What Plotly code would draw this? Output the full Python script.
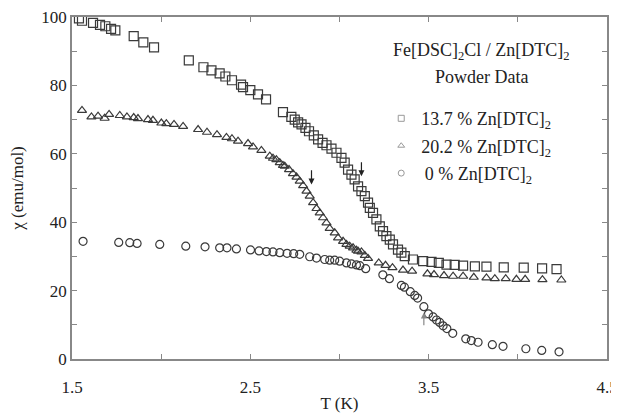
import plotly.graph_objects as go

# 13.7 % Zn[DTC]2  (squares)
sq_T = [1.539, 1.556, 1.618, 1.657, 1.687, 1.719, 1.743, 1.846, 1.900, 1.960,
        2.155, 2.237, 2.282, 2.328, 2.360, 2.397, 2.448, 2.459, 2.500, 2.543,
        2.588, 2.683, 2.730, 2.749, 2.768, 2.787, 2.809, 2.829, 2.856, 2.880,
        2.905, 2.927, 2.955, 2.983, 3.011, 3.029, 3.048, 3.067, 3.085, 3.104,
        3.123, 3.142, 3.160, 3.170, 3.188, 3.207, 3.226, 3.244, 3.263, 3.282,
        3.300, 3.328, 3.347, 3.366, 3.412, 3.469, 3.516, 3.557, 3.600, 3.646,
        3.693, 3.759, 3.824, 3.921, 4.033, 4.136, 4.217]
sq_chi = [99.6, 98.9, 98.3, 97.7, 97.3, 96.5, 96.1, 94.4, 92.6, 91.1,
          87.3, 85.3, 84.4, 83.5, 82.6, 81.5, 80.2, 79.5, 78.6, 77.4,
          75.9, 72.2, 70.8, 70.0, 69.2, 68.6, 67.6, 66.6, 65.4, 64.2,
          63.2, 62.5, 61.5, 60.3, 58.8, 57.4, 55.4, 53.9, 52.5, 50.5,
          49.1, 47.6, 45.7, 44.2, 42.7, 40.8, 38.8, 37.4, 35.9, 34.9,
          33.5, 32.0, 31.1, 30.1, 29.1, 28.6, 28.4, 28.1, 27.6, 27.5,
          27.3, 27.1, 27.0, 26.8, 26.7, 26.5, 26.3]

# 20.2 % Zn[DTC]2  (triangles)
tr_T = [1.556, 1.609, 1.646, 1.683, 1.708, 1.768, 1.808, 1.846, 1.870, 1.926,
        1.954, 2.001, 2.029, 2.072, 2.123, 2.207, 2.257, 2.313, 2.366, 2.397,
        2.431, 2.487, 2.515, 2.562, 2.609, 2.627, 2.646, 2.665, 2.683, 2.693,
        2.717, 2.739, 2.759, 2.777, 2.796, 2.815, 2.833, 2.852, 2.871, 2.889,
        2.908, 2.927, 2.945, 2.973, 2.992, 3.020, 3.039, 3.057, 3.076, 3.095,
        3.104, 3.123, 3.142, 3.160, 3.220, 3.258, 3.297, 3.356, 3.407, 3.493,
        3.530, 3.586, 3.637, 3.693, 3.753, 3.824, 3.871, 3.932, 3.992, 4.041,
        4.138, 4.244]
tr_chi = [72.7, 70.8, 71.0, 70.4, 71.5, 71.2, 70.8, 70.6, 70.3, 70.0,
          69.8, 69.0, 68.8, 68.6, 68.0, 67.1, 66.3, 65.6, 64.8, 64.4,
          63.7, 63.0, 62.0, 61.0, 59.3, 58.7, 58.3, 57.4, 56.6, 56.4,
          55.4, 54.2, 53.2, 52.0, 50.7, 49.1, 47.6, 45.7, 44.0, 42.7,
          41.3, 39.8, 38.2, 36.9, 35.4, 34.4, 33.5, 33.0, 32.5, 31.8,
          31.5, 31.3, 30.3, 29.4, 28.1, 27.4, 26.7, 26.0, 25.7, 24.9,
          24.7, 24.4, 24.2, 24.2, 23.9, 23.7, 23.5, 23.5, 23.3, 23.3,
          23.2, 23.1]

# 0 % Zn[DTC]2  (circles)
ci_T = [1.562, 1.762, 1.824, 1.865, 1.992, 2.138, 2.246, 2.328, 2.369, 2.422,
        2.501, 2.549, 2.590, 2.627, 2.665, 2.706, 2.743, 2.777, 2.833, 2.871,
        2.917, 2.945, 2.973, 3.001, 3.039, 3.067, 3.095, 3.114, 3.147, 3.243,
        3.280, 3.347, 3.364, 3.397, 3.422, 3.438, 3.473, 3.499, 3.525, 3.544,
        3.562, 3.581, 3.602, 3.635, 3.708, 3.739, 3.777, 3.857, 3.917, 4.045,
        4.134, 4.231]
ci_chi = [34.4, 34.1, 34.0, 33.8, 33.5, 33.0, 32.8, 32.5, 32.5, 32.2,
          31.9, 31.6, 31.4, 31.3, 31.1, 30.9, 30.8, 30.6, 29.9, 29.5,
          29.1, 28.9, 28.9, 28.6, 28.1, 27.8, 27.5, 27.3, 26.4, 24.6,
          23.5, 21.5, 21.0, 19.7, 18.6, 17.8, 15.3, 13.2, 12.3, 11.4,
          10.7, 9.7, 8.9, 7.5, 5.9, 5.4, 4.9, 4.2, 3.7, 3.0,
          2.5, 2.1]

# transition arrows: (T, head chi, tail chi)
arrow_T = [2.843, 3.123, 3.473]
arrow_head = [51.0, 53.4, 13.6]
arrow_tail = [55.6, 58.0, 9.4]

x_range = [1.5, 4.5]
y_range = [0, 100]
x_ticks = [1.5, 2.0, 2.5, 3.0, 3.5, 4.0, 4.5]
x_labels = ["1.5", "", "2.5", "", "3.5", "", "4.5"]
y_ticks = [0, 10, 20, 30, 40, 50, 60, 70, 80, 90, 100]
y_labels = ["0", "", "20", "", "40", "", "60", "", "80", "", "100"]

series_names = ["13.7 % Zn[DTC]<sub>2</sub>", "20.2 % Zn[DTC]<sub>2</sub>",
                "\u20090 % Zn[DTC]<sub>2</sub>"]

FONT = "Liberation Serif"
INK = "#3a3a3a"
TXT = "#222"
AX = "#888"

fig = go.Figure()
data = [(sq_T, sq_chi, "square-open", 9), (tr_T, tr_chi, "triangle-up-open", 8),
        (ci_T, ci_chi, "circle-open", 8)]
for (xs, ys, sym, sz) in data:
    fig.add_trace(go.Scatter(x=xs, y=ys, mode="markers", showlegend=False,
                             marker=dict(symbol=sym, size=sz, color=INK,
                                         line=dict(width=1.2, color=INK))))
for (xs, ys, sym, sz), name in zip(data, series_names):
    fig.add_trace(go.Scatter(x=[None], y=[None], mode="markers", name=name,
                             legendgroup=name,
                             marker=dict(symbol=sym, size=6, color="#999",
                                         line=dict(width=1, color="#999"))))
# empty trace so the label-carrying overlay axis is drawn
fig.add_trace(go.Scatter(x=[None], y=[None], xaxis="x2", yaxis="y",
                         mode="markers", showlegend=False, hoverinfo="skip"))

for t, h, tl in zip(arrow_T, arrow_head, arrow_tail):
    fig.add_annotation(x=t, y=h, ax=t, ay=tl, xref="x", yref="y",
                       axref="x", ayref="y", text="", showarrow=True,
                       arrowhead=2, arrowsize=1, arrowwidth=1.2,
                       arrowcolor="#222" if h < tl else "#888")

fig.add_annotation(x=0.766, y=0.90, xref="paper", yref="paper",
                   xanchor="center", yanchor="middle",
                   text="Fe[DSC]<sub>2</sub>Cl / Zn[DTC]<sub>2</sub>",
                   showarrow=False, font=dict(family=FONT, size=18, color=TXT))
fig.add_annotation(x=0.766, y=0.825, xref="paper", yref="paper",
                   xanchor="center", yanchor="middle",
                   text="Powder Data", showarrow=False,
                   font=dict(family=FONT, size=18, color=TXT))

# the page body adds an 8 px offset; the plot area keeps the reference's position
fig.update_layout(
    width=611, height=405,
    margin=dict(l=64, r=12, t=9, b=54, autoexpand=False),
    paper_bgcolor="white", plot_bgcolor="white",
    # main x axis: frame with inside ticks, no labels
    xaxis=dict(range=x_range, tickvals=x_ticks, showticklabels=False,
               showline=True, linecolor=AX, linewidth=1.5, mirror="ticks",
               ticks="inside", ticklen=5, tickwidth=1.2, tickcolor=AX,
               showgrid=False, zeroline=False),
    # overlay x axis that carries only the labels, pushed lower by invisible ticks
    xaxis2=dict(overlaying="x", anchor="y", side="bottom", range=x_range,
                tickvals=x_ticks, ticktext=x_labels, showline=False,
                ticks="outside", ticklen=13, tickcolor="rgba(0,0,0,0)",
                showgrid=False, zeroline=False, ticklabeloverflow="allow",
                tickfont=dict(family=FONT, size=17, color=TXT),
                title=dict(text="T (K)", font=dict(family=FONT, size=17, color=TXT),
                           standoff=3)),
    yaxis=dict(range=y_range, tickvals=y_ticks, ticktext=y_labels,
               showline=True, linecolor=AX, linewidth=1.5, mirror="ticks",
               ticks="inside", ticklen=5, tickwidth=1.2, tickcolor=AX,
               showgrid=False, zeroline=False, ticklabeloverflow="allow",
               tickfont=dict(family=FONT, size=17, color=TXT),
               title=dict(text="\u03c7 (emu/mol)",
                          font=dict(family=FONT, size=17, color=TXT), standoff=19)),
    legend=dict(x=0.578, y=0.757, xanchor="left", yanchor="top",
                bgcolor="rgba(0,0,0,0)", tracegroupgap=1,
                font=dict(family=FONT, size=18, color=TXT)),
)
fig.write_html("out.html")
